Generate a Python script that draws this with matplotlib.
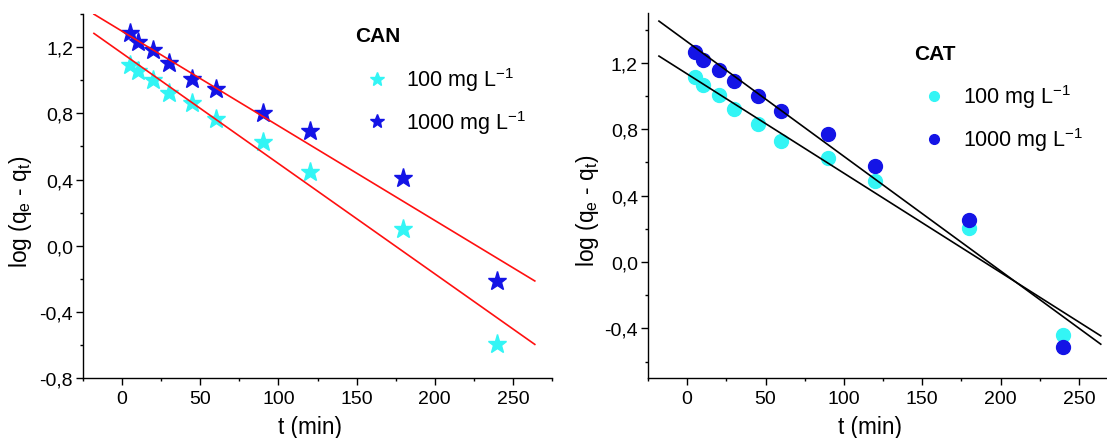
import matplotlib
matplotlib.use("Agg")
import matplotlib.pyplot as plt
from matplotlib.ticker import FixedLocator, FuncFormatter
from matplotlib.lines import Line2D
import numpy as np

plt.rcParams['font.family'] = ['Liberation Sans', 'DejaVu Sans']
plt.rcParams['mathtext.fontset'] = 'custom'
plt.rcParams['mathtext.rm'] = 'Liberation Sans'
plt.rcParams['mathtext.it'] = 'Liberation Sans'

# ---- data ----
t = [5, 10, 20, 30, 45, 60, 90, 120, 180, 240]
can_100 = [1.095, 1.053, 0.999, 0.924, 0.862, 0.767, 0.630, 0.445, 0.102, -0.593]
can_1000 = [1.285, 1.230, 1.180, 1.105, 1.010, 0.950, 0.800, 0.696, 0.410, -0.210]
cat_100 = [1.116, 1.064, 1.004, 0.919, 0.829, 0.729, 0.629, 0.488, 0.207, -0.441]
cat_1000 = [1.266, 1.216, 1.156, 1.090, 1.000, 0.909, 0.769, 0.578, 0.252, -0.514]

# linear fits (intercept, slope)
can_fit_100 = (1.163, -0.00666)
can_fit_1000 = (1.296, -0.005713)
cat_fit_100 = (1.133, -0.005975)
cat_fit_1000 = (1.327, -0.0069)
fit_range = [-18, 264]

labels = ["100 mg L$^{-1}$", "1000 mg L$^{-1}$"]
cyan = '#33F5F5'
blue = '#1414E6'

W, H = 1107, 439
fig = plt.figure(figsize=(W / 100, H / 100), dpi=100)
ax1 = fig.add_axes([83 / W, (H - 379.3) / H, 469 / W, 364.3 / H])
ax2 = fig.add_axes([648 / W, (H - 379.3) / H, 470 / W, 365.3 / H])

fmt = FuncFormatter(lambda v, p: f"{round(v, 1):.1f}".replace('.', ',').replace('-0,0', '0,0'))


def style(ax, ylim, majors, minors):
    ax.set_xlim(-25, 275)
    ax.set_ylim(*ylim)
    for s in ['top', 'right']:
        ax.spines[s].set_visible(False)
    for s in ['left', 'bottom']:
        ax.spines[s].set_linewidth(1.0)
    ax.xaxis.set_major_locator(FixedLocator([0, 50, 100, 150, 200, 250]))
    ax.xaxis.set_minor_locator(FixedLocator([-25, 25, 75, 125, 175, 225, 275]))
    ax.yaxis.set_major_locator(FixedLocator(majors))
    ax.yaxis.set_minor_locator(FixedLocator(minors))
    ax.yaxis.set_major_formatter(fmt)
    ax.tick_params(which='major', direction='out', length=4.8, width=1.0, labelsize=14, pad=2.4)
    ax.tick_params(axis='x', which='major', pad=3.5)
    ax.tick_params(which='minor', direction='out', length=2.4, width=1.0)
    ax.set_xlabel("t (min)", fontsize=16.3)
    ax.set_ylabel(r"log (q$_\mathregular{e}$ - q$_\mathregular{t}$)", fontsize=16.3)


tf = np.array(fit_range, dtype=float)

# Left panel: CAN
style(ax1, (-0.8, 1.4), [-0.8, -0.4, 0.0, 0.4, 0.8, 1.2],
      [-0.6, -0.2, 0.2, 0.6, 1.0, 1.4])
ax1.plot(t, can_100, linestyle='none', marker='*', ms=14, color=cyan, mec=cyan, zorder=2)
ax1.plot(t, can_1000, linestyle='none', marker='*', ms=14, color=blue, mec=blue, zorder=2)
ax1.plot(tf, can_fit_100[0] + can_fit_100[1] * tf, color='#FF1010', lw=1.2, zorder=3)
ax1.plot(tf, can_fit_1000[0] + can_fit_1000[1] * tf, color='#FF1010', lw=1.2, zorder=3)
ax1.text(0.628, 0.941, "CAN", transform=ax1.transAxes, fontsize=15, fontweight='bold',
         ha='center', va='center')
h1 = [Line2D([], [], linestyle='none', marker='*', ms=10, color=cyan),
      Line2D([], [], linestyle='none', marker='*', ms=10, color=blue)]
ax1.legend(h1, labels, loc='upper left', bbox_to_anchor=(0.604, 0.859), frameon=False,
           fontsize=15.5, handlelength=1.0, handletextpad=0.85, labelspacing=0.69, borderpad=0,
           borderaxespad=0)
ax1.xaxis.set_label_coords(0.484, -0.10)
ax1.yaxis.set_label_coords(-0.104, 0.46)

# Right panel: CAT
style(ax2, (-0.7, 1.5), [-0.4, 0.0, 0.4, 0.8, 1.2],
      [-0.6, -0.2, 0.2, 0.6, 1.0, 1.4])
ax2.plot(t, cat_100, linestyle='none', marker='o', ms=10, color=cyan, mec=cyan, zorder=2)
ax2.plot(t, cat_1000, linestyle='none', marker='o', ms=10, color=blue, mec=blue, zorder=2)
ax2.plot(tf, cat_fit_100[0] + cat_fit_100[1] * tf, color='black', lw=1.2, zorder=3)
ax2.plot(tf, cat_fit_1000[0] + cat_fit_1000[1] * tf, color='black', lw=1.2, zorder=3)
ax2.text(0.611, 0.888, "CAT", transform=ax2.transAxes, fontsize=15, fontweight='bold',
         ha='center', va='center')
h2 = [Line2D([], [], linestyle='none', marker='o', ms=7, color=cyan),
      Line2D([], [], linestyle='none', marker='o', ms=7, color=blue)]
ax2.legend(h2, labels, loc='upper left', bbox_to_anchor=(0.586, 0.810), frameon=False,
           fontsize=15.5, handlelength=1.0, handletextpad=0.85, labelspacing=0.69, borderpad=0,
           borderaxespad=0)
ax2.xaxis.set_label_coords(0.472, -0.10)
ax2.yaxis.set_label_coords(-0.099, 0.46)

fig.savefig("out.png", dpi=100)
